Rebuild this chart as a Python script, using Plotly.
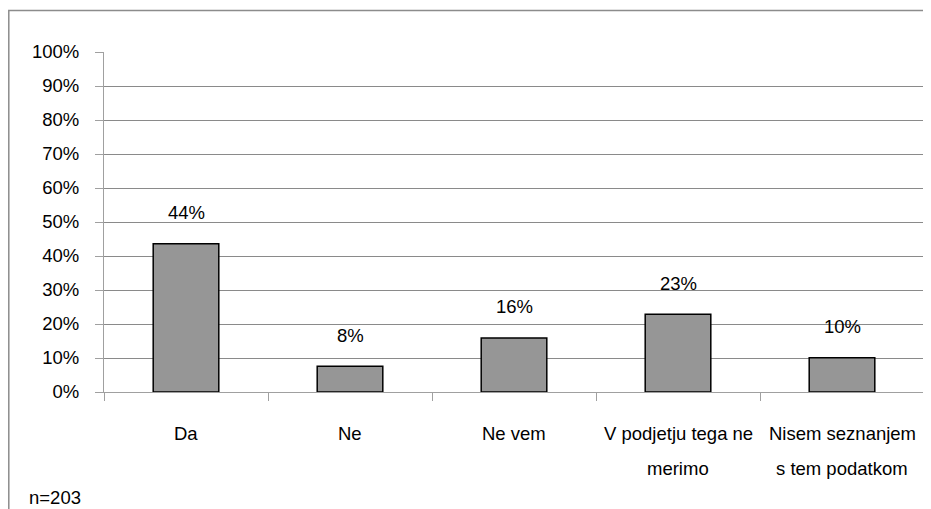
import plotly.graph_objects as go

categories = ["Da", "Ne", "Ne vem", "V podjetju tega ne merimo", "Nisem seznanjem s tem podatkom"]
category_lines = [["Da"], ["Ne"], ["Ne vem"], ["V podjetju tega ne", "merimo"], ["Nisem seznanjem", "s tem podatkom"]]
values = [43.6, 7.6, 15.9, 22.9, 10.1]
labels = ["44%", "8%", "16%", "23%", "10%"]
y_ticks = list(range(0, 101, 10))
y_ticklabels = [f"{v}%" for v in y_ticks]
note = "n=203"

# page body has an 8px margin, so the figure is 8px smaller than the window
W, H = 923, 501
ML, MR, MT, MB = 96, 7, 44, 117
FONT = "Liberation Sans, Arial, sans-serif"
FS = 18.5
pw = W - ML - MR
ph = H - MT - MB


def px_to_py(yfig):
    return (MT + ph - yfig) / ph


def px_to_px(xfig):
    return (xfig - ML) / pw


fig = go.Figure()
fig.add_trace(go.Bar(
    x=categories, y=values,
    marker=dict(color="#969696", line=dict(color="#000000", width=1.5)),
    width=0.4,
    hoverinfo="skip",
))

for c, v, t in zip(categories, values, labels):
    fig.add_annotation(x=c, y=v, text=t, showarrow=False, yanchor="middle",
                       yshift=31, font=dict(family=FONT, size=FS, color="#000"))

# category labels with the reference's wide line spacing
for c, lines in zip(categories, category_lines):
    for i, line in enumerate(lines):
        fig.add_annotation(x=c, xref="x", yref="paper", y=px_to_py(425 + 35 * i),
                           text=line, showarrow=False, yanchor="middle", xanchor="center",
                           font=dict(family=FONT, size=FS, color="#000"))

fig.add_shape(type="rect", xref="paper", yref="paper",
              x0=px_to_px(0.8), x1=px_to_px(W + 20),
              y0=px_to_py(H + 20), y1=px_to_py(2.5),
              line=dict(color="#8c8c8c", width=1.5), fillcolor="rgba(0,0,0,0)", layer="below")

fig.add_annotation(xref="paper", yref="paper", x=px_to_px(19), y=px_to_py(489),
                   xanchor="left", yanchor="middle", text=note, showarrow=False,
                   font=dict(family=FONT, size=FS, color="#000"))

fig.update_layout(
    width=W, height=H,
    margin=dict(l=ML, r=MR, t=MT, b=MB, autoexpand=False),
    paper_bgcolor="white", plot_bgcolor="white",
    showlegend=False,
    font=dict(family=FONT, size=FS, color="#000"),
)
fig.update_yaxes(
    range=[0, 100], tickvals=y_ticks, ticktext=y_ticklabels,
    showgrid=True, gridcolor="#8a8a8a", gridwidth=1,
    showline=True, linecolor="#a0a0a0", linewidth=1,
    ticks="outside", ticklen=8, tickcolor="#a0a0a0",
    ticklabelstandoff=12, zeroline=False, fixedrange=True,
)
fig.update_xaxes(
    showline=True, linecolor="#a0a0a0", linewidth=1,
    ticks="outside", ticklen=8, tickcolor="#a0a0a0",
    tickson="boundaries", showticklabels=False, fixedrange=True,
)

fig.write_html("out.html")
